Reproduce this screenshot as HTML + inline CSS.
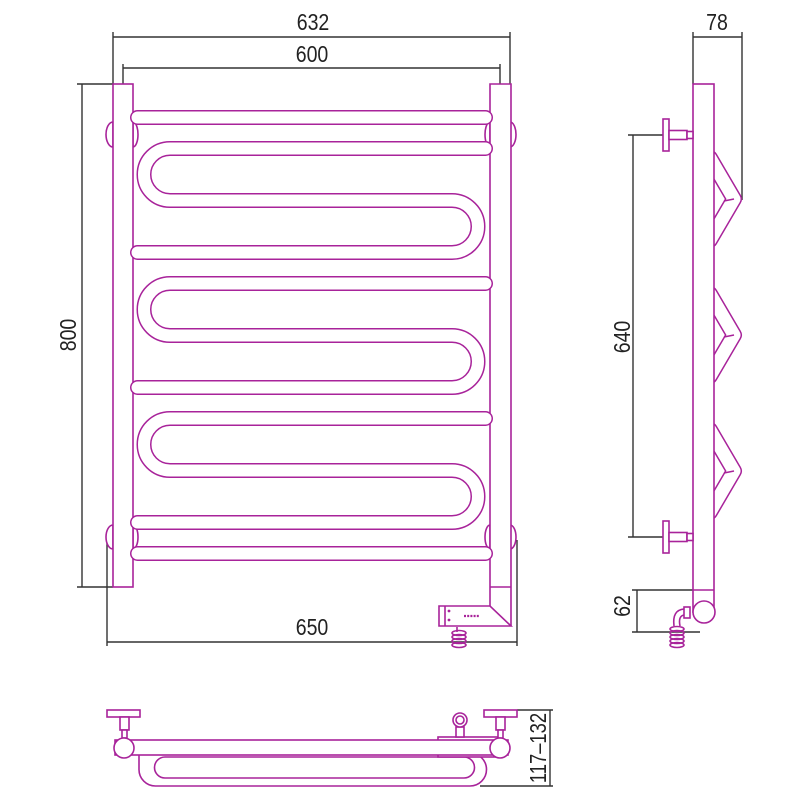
<!DOCTYPE html>
<html><head><meta charset="utf-8"><style>
html,body{margin:0;padding:0;background:#fff;}
svg{display:block;}
text{font-family:"Liberation Sans",sans-serif;fill:#222;font-size:23px;}
</style></head><body>
<svg width="800" height="800" viewBox="0 0 800 800" xmlns="http://www.w3.org/2000/svg">
<defs>
<g id="serp">
<path d="M485.5,148.5 H170 A26,26 0 0 0 170,200.5 H452 A26,26 0 0 1 452,252.5 H137.5" fill="none" stroke="#a8239a" stroke-width="15" stroke-linecap="round"/>
<path d="M485.5,148.5 H170 A26,26 0 0 0 170,200.5 H452 A26,26 0 0 1 452,252.5 H137.5" fill="none" stroke="#fff" stroke-width="12" stroke-linecap="round"/>
</g>
<g id="bar">
<path d="M137.5,0 H485.5" stroke="#a8239a" stroke-width="15" stroke-linecap="round"/>
<path d="M137.5,0 H485.5" stroke="#fff" stroke-width="12" stroke-linecap="round"/>
</g>
<g id="zig">
<path d="M710,158 L734,199 L710,240" fill="none" stroke="#a8239a" stroke-width="16" stroke-linecap="round" stroke-linejoin="round"/>
<path d="M710,158 L734,199 L710,240" fill="none" stroke="#fff" stroke-width="13" stroke-linecap="round" stroke-linejoin="round"/>
<path d="M724,201 L734,199" stroke="#a8239a" stroke-width="1.5"/>
</g>
<g id="mount">
<rect x="663" y="-16" width="6" height="32" fill="#fff" stroke="#a8239a" stroke-width="1.6"/>
<rect x="669" y="-4.5" width="18" height="9" fill="#fff" stroke="#a8239a" stroke-width="1.6"/>
<rect x="687" y="-3.5" width="6" height="7" fill="#fff" stroke="#a8239a" stroke-width="1.6"/>
</g>
</defs>

<g stroke="#333" stroke-width="1.4" fill="none">
<path d="M113,32 V84 M510,32 V84 M113,37 H510"/>
<path d="M123,64 V84 M500,64 V84 M123,68 H500"/>
<path d="M77,84 H113 M77,587 H113 M82,84 V587"/>
<path d="M107,535 V646 M517,540 V646 M107,642 H517"/>
<path d="M693,32 V84 M742,32 V200 M693,37 H742"/>
<path d="M628,135 H663 M628,537 H663 M633,135 V537"/>
<path d="M632,590 H714 M632,632 H700 M637,590 V632"/>
<path d="M517,710 H553 M480,786 H553 M550,710 V786"/>
</g>
<text transform="translate(313,30) scale(0.85,1)" text-anchor="middle">632</text>
<text transform="translate(312,62) scale(0.85,1)" text-anchor="middle">600</text>
<text transform="translate(312,635) scale(0.85,1)" text-anchor="middle">650</text>
<text transform="translate(717,30) scale(0.85,1)" text-anchor="middle">78</text>
<text transform="translate(76,335) rotate(-90) scale(0.85,1)" text-anchor="middle">800</text>
<text transform="translate(630,337) rotate(-90) scale(0.85,1)" text-anchor="middle">640</text>
<text transform="translate(630,606) rotate(-90) scale(0.85,1)" text-anchor="middle">62</text>
<text transform="translate(546,748) rotate(-90) scale(0.8,1)" text-anchor="middle" font-size="21">117–132</text>

<g stroke="#a8239a" stroke-width="1.6" fill="#fff">
<path d="M113,122 A7,12.5 0 0 0 113,147 Z M133,122 A5,12.5 0 0 1 133,147 Z M490,122 A5,12.5 0 0 0 490,147 Z M510,122 A6,12.5 0 0 1 510,147 Z"/>
<path d="M113,525 A7,12 0 0 0 113,549 Z M133,525 A5,12 0 0 1 133,549 Z M490,525 A5,12 0 0 0 490,549 Z M510,525 A6,12 0 0 1 510,549 Z"/>
<rect x="113" y="84" width="20" height="503"/>
<path d="M490,606 V84 H511 V626"/>
<path d="M490,587 H511"/>
<path d="M439,606 H490 L511,626 H439 Z"/>
<path d="M445,606 V626" fill="none"/>
</g>
<circle cx="449" cy="611" r="1.4" fill="#a8239a"/>
<circle cx="449" cy="620" r="1.4" fill="#a8239a"/>
<path d="M464,616 H480" stroke="#a8239a" stroke-width="2.2" stroke-dasharray="2,1.2"/>
<g fill="none" stroke="#a8239a" stroke-width="1.6">
<path d="M457,627 V632"/>
<ellipse cx="459" cy="633" rx="7" ry="2.5"/><ellipse cx="459" cy="637" rx="7" ry="2.5"/>
<ellipse cx="459" cy="641" rx="7" ry="2.5"/><ellipse cx="459" cy="645" rx="7" ry="2.5"/>
</g>
<use href="#bar" transform="translate(0,117.5)"/>
<use href="#serp"/>
<use href="#serp" transform="translate(0,135)"/>
<use href="#serp" transform="translate(0,270)"/>
<use href="#bar" transform="translate(0,553.5)"/>

<use href="#zig"/>
<use href="#zig" transform="translate(0,136)"/>
<use href="#zig" transform="translate(0,272)"/>
<g stroke="#a8239a" stroke-width="1.6" fill="#fff">
<rect x="693" y="84" width="21" height="528"/>
<path d="M693,590 H714" fill="none"/>
<circle cx="704" cy="612" r="11"/>
<rect x="684" y="607" width="6" height="11"/>
<path d="M684,609 Q672,610 674,626 M684,615 Q678,616 680,626" fill="none"/>
</g>
<g fill="none" stroke="#a8239a" stroke-width="1.6">
<ellipse cx="677" cy="629" rx="7" ry="2.5"/><ellipse cx="677" cy="633" rx="7" ry="2.5"/>
<ellipse cx="677" cy="637" rx="7" ry="2.5"/><ellipse cx="677" cy="641" rx="7" ry="2.5"/><ellipse cx="677" cy="645" rx="7" ry="2.5"/>
</g>
<use href="#mount" transform="translate(0,135)"/>
<use href="#mount" transform="translate(0,537)"/>

<g stroke="#a8239a" stroke-width="1.6" fill="#fff">
<path d="M160,753 H470 A16.5,16.5 0 0 1 470,786 H156 A16.5,16.5 0 0 1 139,769 V753"/>
<path d="M165,757 H464 A10.5,10.5 0 0 1 464,778 H165 A10.5,10.5 0 0 1 165,757 Z"/>
<rect x="438" y="737" width="62" height="20"/>
<rect x="115" y="740" width="393" height="15"/>
<rect x="107" y="710" width="33" height="7"/>
<rect x="120" y="717" width="9" height="13"/>
<rect x="122" y="730" width="5" height="8"/>
<circle cx="124" cy="748" r="10"/>
<rect x="484" y="710" width="33" height="7"/>
<rect x="496" y="717" width="9" height="13"/>
<rect x="498" y="730" width="5" height="8"/>
<circle cx="500" cy="748" r="10"/>
<rect x="456" y="727" width="8" height="10"/>
<circle cx="460" cy="720" r="7"/>
<circle cx="460" cy="720" r="4"/>
</g>
</svg>
</body></html>
